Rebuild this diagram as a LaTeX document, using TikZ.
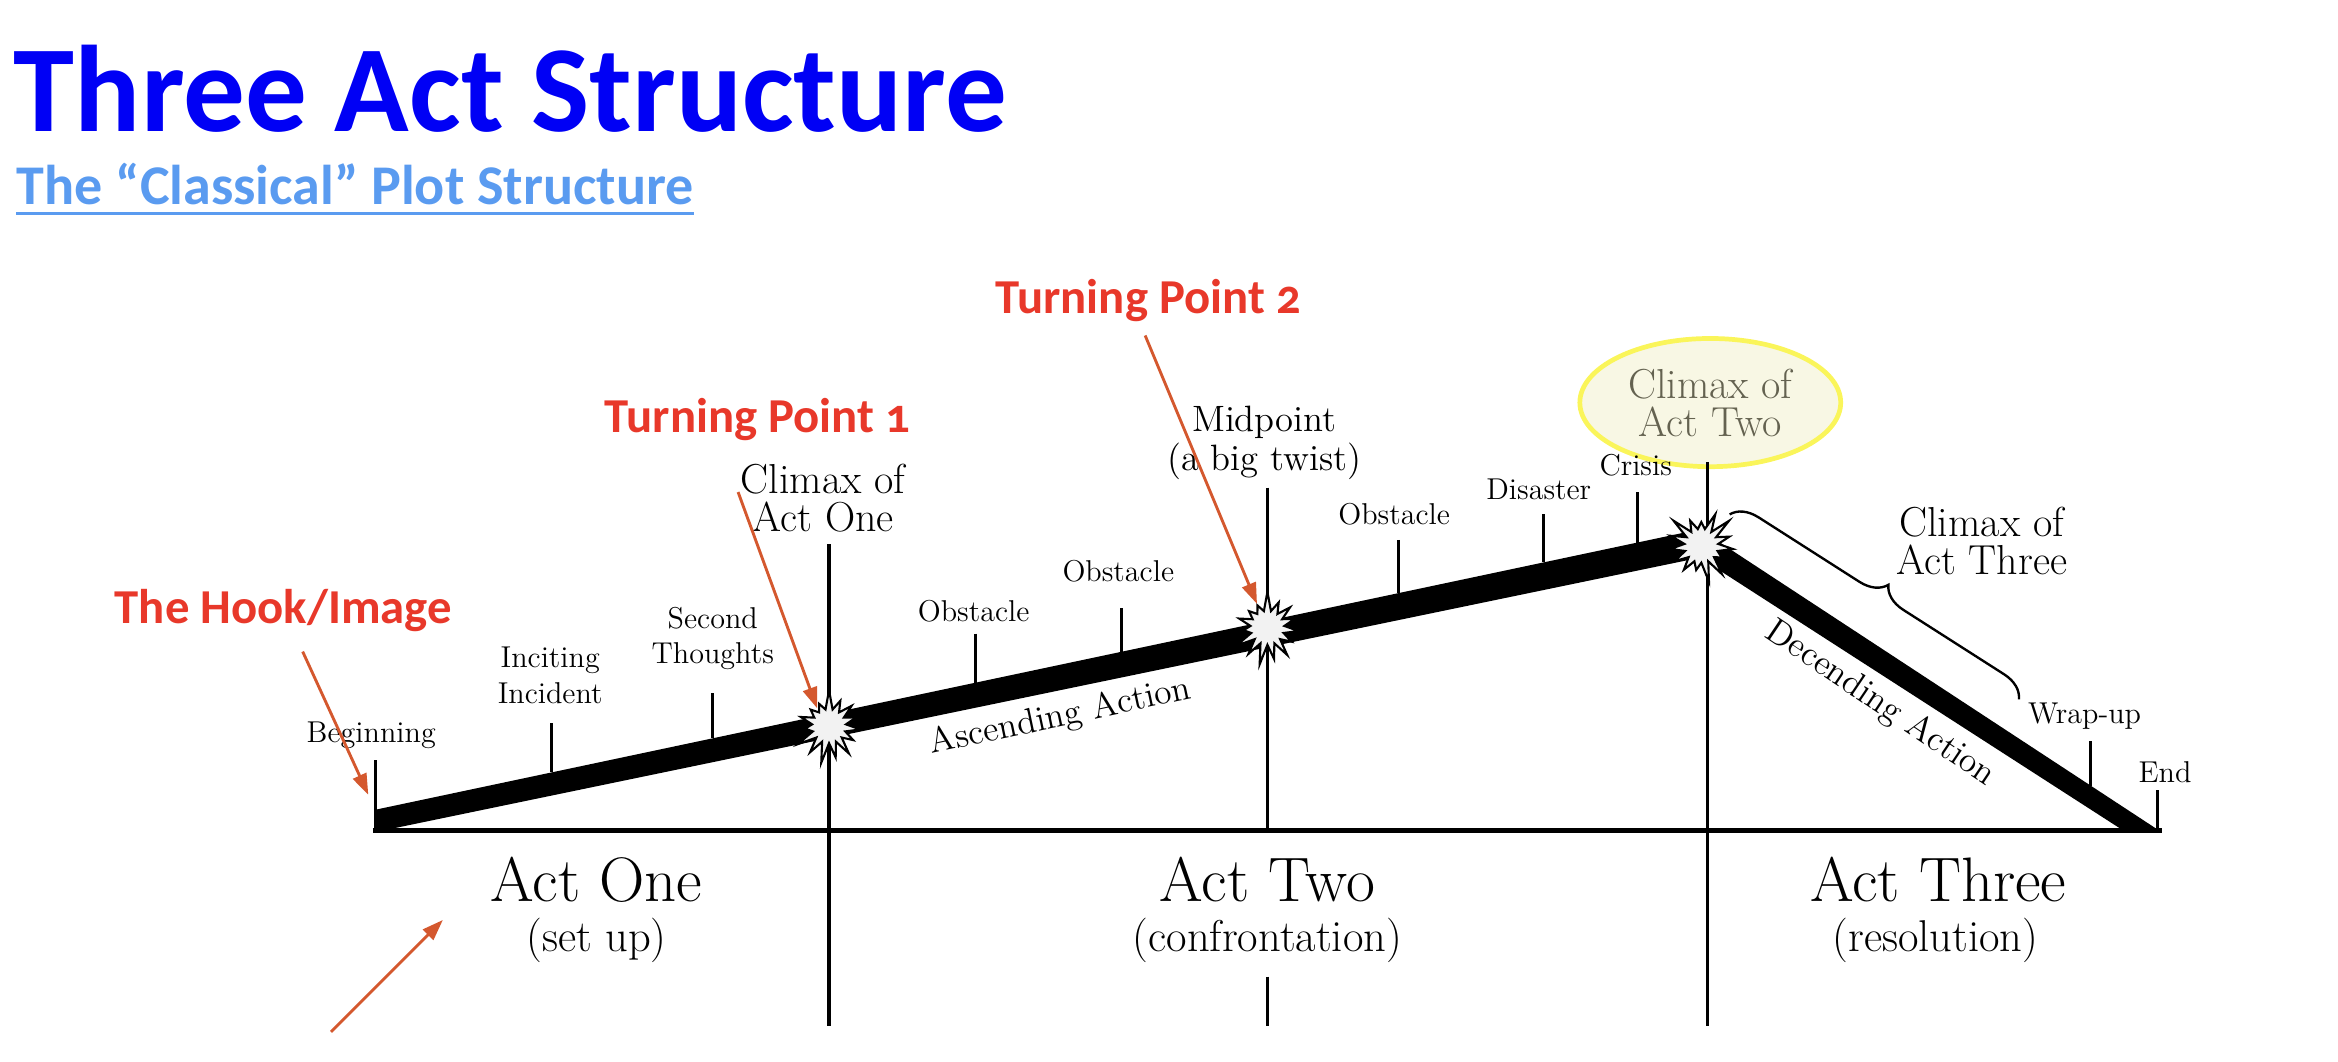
\documentclass[tikz,border=0pt]{standalone}
\usepackage{fontspec}
\usepackage{xcolor}
\usepackage{tikz}
\usetikzlibrary{arrows.meta,positioning,shapes.symbols,shapes.geometric,decorations.pathreplacing}
\newfontfamily\headfont{Carlito}[Numbers=OldStyle]
\definecolor{titleblue}{RGB}{0,0,245}
\definecolor{subblue}{RGB}{90,155,240}
\definecolor{notered}{RGB}{232,56,42}
\definecolor{arrowred}{RGB}{212,88,46}
\definecolor{hiyellow}{RGB}{250,245,90}
\definecolor{hifill}{RGB}{248,247,228}
\definecolor{hitext}{RGB}{100,98,80}

\begin{document}
\begin{tikzpicture}[x=0.02cm, y=-0.02cm, >=Latex,
  lbl/.style={font=\fontsize{11.5}{13.5}\selectfont, align=center, inner sep=1pt},
  big/.style={font=\fontsize{16}{14.5}\selectfont, align=center, inner sep=1pt},
  act/.style={font=\fontsize{24}{26}\selectfont, inner sep=1pt},
  actsub/.style={font=\fontsize{17}{19}\selectfont, inner sep=1pt},
  note/.style={font=\headfont\bfseries\fontsize{18.6}{20}\selectfont, text=notered, inner sep=0pt, anchor=base},
  pointer/.style={draw=arrowred, line width=1.1pt, -{Triangle[length=8pt,width=5.5pt]}},
  tick/.style={line width=1.2pt},
  boom/.style={starburst, draw, fill=gray!10, line width=0.8pt, starburst points=15,
    starburst point height=8pt, minimum size=29pt, inner sep=0pt, random starburst=7}]
  \useasboundingbox (0,0) rectangle (1568,712);

  % headings
  \node[anchor=base west, inner sep=0pt, text=titleblue, font=\headfont\bfseries\fontsize{47}{50}\selectfont] (title) at (9,88) {Three Act Structure};
  \node[anchor=base west, inner sep=0pt, text=subblue, font=\headfont\bfseries\fontsize{21.4}{24}\selectfont] (sub) at (11,137) {The “Classical” Plot Structure};
  \draw[subblue, line width=1.3pt] ([yshift=-3.5pt]sub.base west) -- ([yshift=-3.5pt]sub.base east);

  % highlighted climax of act two
  \node[ellipse, draw=hiyellow, line width=1.8pt, fill=hifill, minimum width=3.5cm, minimum height=1.72cm,
    big, text=hitext] (c2L) at (1147,270) {Climax of\\Act Two};

  % frame
  \draw[line width=1.8pt] (250,557) -- (1450,557);
  \draw[line width=1.2pt] (556,365) -- (556,688);
  \draw[line width=1.2pt] (850,327) -- (850,557);
  \draw[line width=1.2pt] (850,655) -- (850,688);
  \draw[line width=1.2pt] (1145,310) -- (1145,688);

  % the plot line
  \fill (252,543) -- (1140,355) -- (1448,557) -- (1424,557) -- (1140,374) -- (252,558) -- cycle;

  % ticks
  \draw[tick] (252,510) -- (252,557);
  \draw[tick] (370,485) -- (370,518);
  \draw[tick] (478,465) -- (478,495);
  \draw[tick] (654,425) -- (654,458);
  \draw[tick] (752,408) -- (752,437);
  \draw[tick] (938,362) -- (938,398);
  \draw[tick] (1035,345) -- (1035,377);
  \draw[tick] (1098,330) -- (1098,364);
  \draw[tick] (1402,497) -- (1402,527);
  \draw[tick] (1447,530) -- (1447,557);

  \node[boom] (s1) at (556,487) {};
  \node[boom] (s2) at (850,421) {};
  \node[boom, random starburst=3] (s3) at (1141,366) {};

  % labels
  \node[lbl] (begL) at (249,493) {Beginning};
  \node[lbl] (incL) at (369,453) {Inciting\\Incident};
  \node[lbl] (secL) at (478,428) {Second\\Thoughts};
  \node[big] (c1L) at (552,334) {Climax of\\Act One};
  \node[lbl] (ob1) at (653,410) {Obstacle};
  \node[lbl] (ob2) at (750,383) {Obstacle};
  \node[big, font=\fontsize{14}{15}\selectfont] (midL) at (848,297) {Midpoint\\(a big twist)};
  \node[lbl] (ob3) at (935,345) {Obstacle};
  \node[lbl] (disL) at (1032,328) {Disaster};
  \node[lbl] (criL) at (1097,312) {Crisis};
  \node[big] (c3L) at (1329,363) {Climax of\\Act Three};
  \node[lbl] (wrapL) at (1398,480) {Wrap-up};
  \node[lbl] (endL) at (1452,518) {End};
  \node[lbl, font=\fontsize{13.5}{15}\selectfont, rotate=12] (ascL) at (711,481) {Ascending Action};
  \node[lbl, font=\fontsize{13.5}{15}\selectfont, rotate=-34] (decL) at (1261,472) {Decending Action};

  \coordinate (br1) at (1160,345);
  \coordinate (br2) at (1354,469);
  \draw[decorate, decoration={brace, amplitude=10pt}, line width=0.9pt] (br1) -- (br2);

  \node[act] (act1) at (400,590) {Act One};
  \node[actsub] (act1s) at (400,631) {(set up)};
  \node[act] (act2) at (850,590) {Act Two};
  \node[actsub] (act2s) at (850,631) {(confrontation)};
  \node[act] (act3) at (1300,590) {Act Three};
  \node[actsub] (act3s) at (1298,631) {(resolution)};

  % notes in red
  \node[note] (hook) at (190,418) {The Hook/Image};
  \node[note] (tp1) at (508,290) {Turning Point 1};
  \node[note] (tp2) at (770,210) {Turning Point 2};
  \coordinate (hookA) at (203,437);
  \coordinate (hookB) at (247,533);
  \coordinate (tp1A) at (495,330);
  \coordinate (tp1B) at (548,475);
  \coordinate (tp2A) at (768,225);
  \coordinate (tp2B) at (843,405);
  \coordinate (loneA) at (222,692);
  \coordinate (loneB) at (297,617);
  \draw[pointer] (hookA) -- (hookB);
  \draw[pointer] (tp1A) -- (tp1B);
  \draw[pointer] (tp2A) -- (tp2B);
  \draw[pointer] (loneA) -- (loneB);
\end{tikzpicture}
\end{document}
